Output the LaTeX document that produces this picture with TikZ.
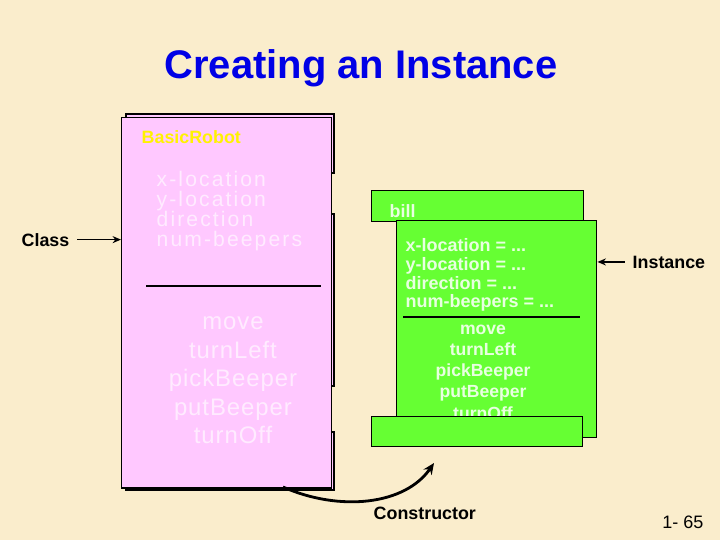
\documentclass[tikz,border=0pt]{standalone}
\usepackage{fontspec}
\setmainfont{Liberation Sans}
\usetikzlibrary{arrows.meta}
\definecolor{parchment}{RGB}{250,237,204}
\definecolor{classpink}{RGB}{255,200,255}
\definecolor{objgreen}{RGB}{102,255,51}
\definecolor{titleblue}{RGB}{0,0,230}
\definecolor{pinktext}{RGB}{255,235,255}
\definecolor{greentext}{RGB}{232,255,224}
\tikzset{
every picture/.style={line width=1pt},
classbox/.style={draw=black, fill=classpink, inner sep=0pt, anchor=north west},
objbox/.style={draw=black, fill=objgreen, inner sep=0pt, anchor=north west},
pointer/.style={-{Stealth[length=6pt,width=5pt]}, line width=1.1pt},
tag/.style={inner sep=0pt, font=\bfseries\fontsize{12.7}{15}\selectfont}
}

\begin{document}
\begin{tikzpicture}[x=0.025cm, y=-0.025cm]
      \fill[parchment] (0,0) rectangle (720,540);
      \useasboundingbox (0,0) rectangle (720,540);
      \node[anchor=base, inner sep=0pt, text=titleblue, font=\bfseries\fontsize{28.4}{34}\selectfont] (title) at (361,78) {Creating an Instance};
      % the class
      \draw[fill=classpink] (126,114) rectangle (334,173);
      \draw[fill=classpink] (126,214) rectangle (334,386);
      \draw[fill=classpink] (126,432) rectangle (334,490);
      \node[classbox, minimum width=5.25cm, minimum height=9.25cm] (cls) at (121,117) {};
      \node[tag, anchor=base west, text=yellow] (clsname) at (141,143) {BasicRobot};
      \node[anchor=north west, inner sep=0pt, align=left, text=pinktext, font=\fontsize{15}{14.2}\selectfont\addfontfeature{LetterSpace=10}] (clsattrs) at (156,171) {x-location\\y-location\\direction\\num-beepers};
      \draw[line width=1.4pt] (146,286) -- (321,286);
      \node[anchor=north, inner sep=0pt, align=center, text=pinktext, font=\fontsize{17}{20.3}\selectfont\addfontfeature{LetterSpace=4}] (clsmeths) at (233,316) {move\\turnLeft\\pickBeeper\\putBeeper\\turnOff};
      % the instance
      \node[objbox, minimum width=5.3cm, minimum height=0.775cm] (objname) at (371,190) {};
      \node[tag, anchor=base west, text=greentext] (bill) at (389,217) {bill};
      \node[objbox, minimum width=5cm, minimum height=5.425cm] (obj) at (396,220) {};
      \node[anchor=north west, inner sep=0pt, align=left, text=greentext, font=\bfseries\fontsize{12.8}{13.3}\selectfont] (objattrs) at (405,238) {x-location = ...\\y-location = ...\\direction = ...\\num-beepers = ...};
      \draw[line width=1.2pt] (403,317) -- (580,317);
      \node[anchor=north, inner sep=0pt, align=center, text=greentext, font=\bfseries\fontsize{12.5}{15.1}\selectfont] (objmeths) at (483,324) {move\\turnLeft\\pickBeeper\\putBeeper\\turnOff};
      \node[objbox, minimum width=5.275cm, minimum height=0.75cm] (objfoot) at (371,416) {};
      % pointers
      \node[tag, anchor=base east] (clslabel) at (70,246) {Class};
      \draw[pointer] ([xshift=5pt]clslabel.east) -- (clslabel.east -| cls.west);
      \node[tag, anchor=base west] (instlabel) at (632,268) {Instance};
      \draw[pointer] ([xshift=-5pt]instlabel.west) -- (instlabel.west -| obj.east);
      \node[tag, anchor=base west] (ctorlabel) at (373,519) {Constructor};
      \coordinate (ctorstart) at (283,487);
      \coordinate (ctorend) at (434,463);
      \draw[-{Stealth[length=8pt,width=7pt]}, line width=2pt] (ctorstart) .. controls (340,512) and (405,505) .. (ctorend);
      \node[anchor=base east, inner sep=0pt, font=\fontsize{12.8}{15}\selectfont] (pagenum) at (704,528) {1- 65};
    \end{tikzpicture}
\end{document}
